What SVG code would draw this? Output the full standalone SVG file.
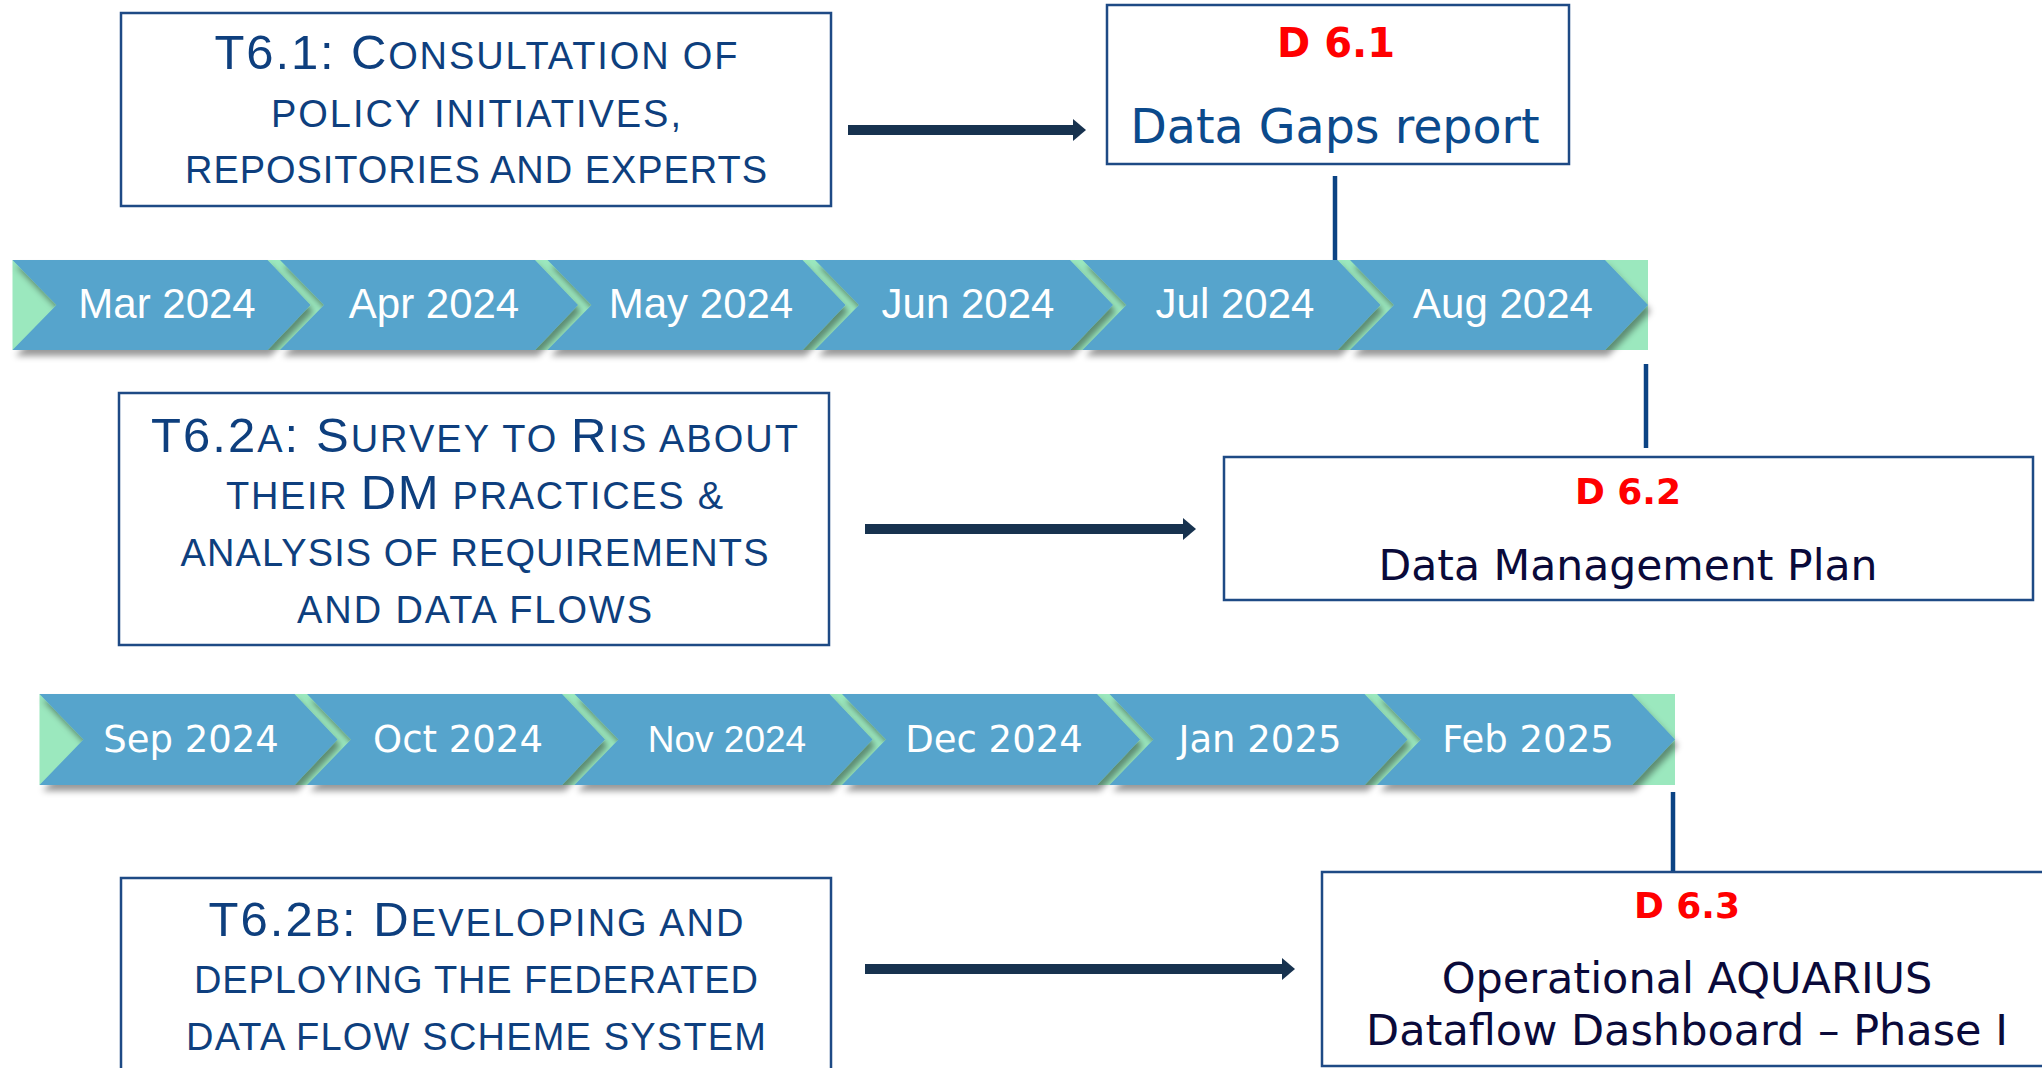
<svg xmlns="http://www.w3.org/2000/svg" width="2042" height="1068" viewBox="0 0 2042 1068">
<style>
.box{fill:#fff;stroke:#1E4A85;stroke-width:2.5}
.task{font-family:"Liberation Sans",Arial,sans-serif;fill:#0E3F7E;text-anchor:middle}
.B{font-size:49px}
.S{font-size:38px}
.dl{font-family:"DejaVu Sans",Verdana,sans-serif;font-weight:bold;fill:#FF0000;text-anchor:middle}
.dt{font-family:"DejaVu Sans",Verdana,sans-serif;text-anchor:middle}
.chev{fill:#57A4CC;filter:url(#sh)}
.band{fill:#9BE8BE}
.m1{font-family:"Liberation Sans",Arial,sans-serif;font-size:42px;fill:#fff;text-anchor:middle}
.m2{font-family:"DejaVu Sans",Verdana,sans-serif;font-size:37px;fill:#fff;text-anchor:middle}
.arr{stroke:#17324F;stroke-width:10;fill:none}
.vl{stroke:#0B4384;stroke-width:4.5;fill:none}
</style>
<defs>
<filter id="sh" x="-10%" y="-20%" width="130%" height="150%">
<feDropShadow dx="3" dy="6" stdDeviation="3" flood-color="#000" flood-opacity="0.4"/>
</filter>
<marker id="ah" markerUnits="userSpaceOnUse" markerWidth="14" markerHeight="22" refX="0" refY="11" orient="auto">
<path d="M0,0 L13,11 L0,22 z" fill="#17324F"/>
</marker>
<path id="cv" d="M0,0 L255,0 L298,45 L255,90 L0,90 L44,45 z"/>
<path id="cv2" d="M0,0 L255,0 L298,45.5 L255,91 L0,91 L44,45.5 z"/>
</defs>
<rect width="2042" height="1068" fill="#fff"/>

<g id="timeline1">
<rect class="band" x="12.5" y="260" width="1635.5" height="90"/>
<use href="#cv" class="chev" x="12.5" y="260"/>
<use href="#cv" class="chev" x="280" y="260"/>
<use href="#cv" class="chev" x="547.5" y="260"/>
<use href="#cv" class="chev" x="815" y="260"/>
<use href="#cv" class="chev" x="1082.5" y="260"/>
<use href="#cv" class="chev" x="1350" y="260"/>
<text class="m1" x="167" y="318">Mar 2024</text>
<text class="m1" x="434" y="318">Apr 2024</text>
<text class="m1" x="701" y="318">May 2024</text>
<text class="m1" x="968" y="318">Jun 2024</text>
<text class="m1" x="1235" y="318">Jul 2024</text>
<text class="m1" x="1503" y="318">Aug 2024</text>
</g>

<g id="timeline2">
<rect class="band" x="39.5" y="694" width="1635.5" height="91"/>
<use href="#cv2" class="chev" x="39.5" y="694"/>
<use href="#cv2" class="chev" x="307" y="694"/>
<use href="#cv2" class="chev" x="574.5" y="694"/>
<use href="#cv2" class="chev" x="842" y="694"/>
<use href="#cv2" class="chev" x="1109.5" y="694"/>
<use href="#cv2" class="chev" x="1377" y="694"/>
<text class="m2" x="191" y="752">Sep 2024</text>
<text class="m2" x="458" y="752">Oct 2024</text>
<text class="m1" x="727" y="752" style="font-size:37px">Nov 2024</text>
<text class="m2" x="994" y="752">Dec 2024</text>
<text class="m2" x="1260" y="752">Jan 2025</text>
<text class="m2" x="1528" y="752">Feb 2025</text>
</g>

<g id="T6.1">
<rect class="box" x="121" y="13" width="710" height="193"/>
<text class="task" x="476" y="69" textLength="523" lengthAdjust="spacing"><tspan class="B">T6.1: C</tspan><tspan class="S">ONSULTATION OF</tspan></text>
<text class="task S" x="476" y="127" textLength="410" lengthAdjust="spacing">POLICY INITIATIVES,</text>
<text class="task S" x="476" y="183" textLength="582" lengthAdjust="spacing">REPOSITORIES AND EXPERTS</text>
</g>

<g id="D6.1">
<rect class="box" x="1107" y="5" width="462" height="159"/>
<text class="dl" x="1336" y="57" font-size="40">D 6.1</text>
<text class="dt" x="1335" y="143" font-size="47.5" fill="#0B4A8C">Data Gaps report</text>
</g>

<g id="T6.2a">
<rect class="box" x="119" y="393" width="710" height="252"/>
<text class="task" x="474.5" y="452" textLength="647" lengthAdjust="spacing"><tspan class="B">T6.2</tspan><tspan class="S">A</tspan><tspan class="B">: S</tspan><tspan class="S">URVEY TO </tspan><tspan class="B">R</tspan><tspan class="S">IS ABOUT</tspan></text>
<text class="task" x="474.5" y="509" textLength="497" lengthAdjust="spacing"><tspan class="S">THEIR </tspan><tspan class="B">DM</tspan><tspan class="S"> PRACTICES &amp;</tspan></text>
<text class="task S" x="474.5" y="566" textLength="588" lengthAdjust="spacing">ANALYSIS OF REQUIREMENTS</text>
<text class="task S" x="474.5" y="623" textLength="355" lengthAdjust="spacing">AND DATA FLOWS</text>
</g>

<g id="D6.2">
<rect class="box" x="1224" y="457" width="809" height="143"/>
<text class="dl" x="1628" y="504" font-size="36">D 6.2</text>
<text class="dt" x="1628" y="580" font-size="42.5" fill="#0A0A3A">Data Management Plan</text>
</g>

<g id="T6.2b">
<rect class="box" x="121" y="878" width="710" height="210"/>
<text class="task" x="476" y="936" textLength="535" lengthAdjust="spacing"><tspan class="B">T6.2</tspan><tspan class="S">B</tspan><tspan class="B">: D</tspan><tspan class="S">EVELOPING AND</tspan></text>
<text class="task S" x="476" y="993" textLength="564" lengthAdjust="spacing">DEPLOYING THE FEDERATED</text>
<text class="task S" x="476" y="1050" textLength="580" lengthAdjust="spacing">DATA FLOW SCHEME SYSTEM</text>
</g>

<g id="D6.3">
<rect class="box" x="1322" y="872" width="760" height="194"/>
<text class="dl" x="1687" y="918" font-size="36">D 6.3</text>
<text class="dt" x="1687" y="993" font-size="43" fill="#0A0A3A">Operational AQUARIUS</text>
<text class="dt" x="1687" y="1045" font-size="43" fill="#0A0A3A">Dataflow Dashboard – Phase I</text>
</g>

<g id="connectors">
<line class="arr" x1="848" y1="130" x2="1073" y2="130" marker-end="url(#ah)"/>
<line class="arr" x1="865" y1="529" x2="1183" y2="529" marker-end="url(#ah)"/>
<line class="arr" x1="865" y1="969" x2="1282" y2="969" marker-end="url(#ah)"/>
<line class="vl" x1="1335" y1="176" x2="1335" y2="260"/>
<line class="vl" x1="1646" y1="364" x2="1646" y2="448"/>
<line class="vl" x1="1673" y1="792" x2="1673" y2="871"/>
</g>
</svg>
